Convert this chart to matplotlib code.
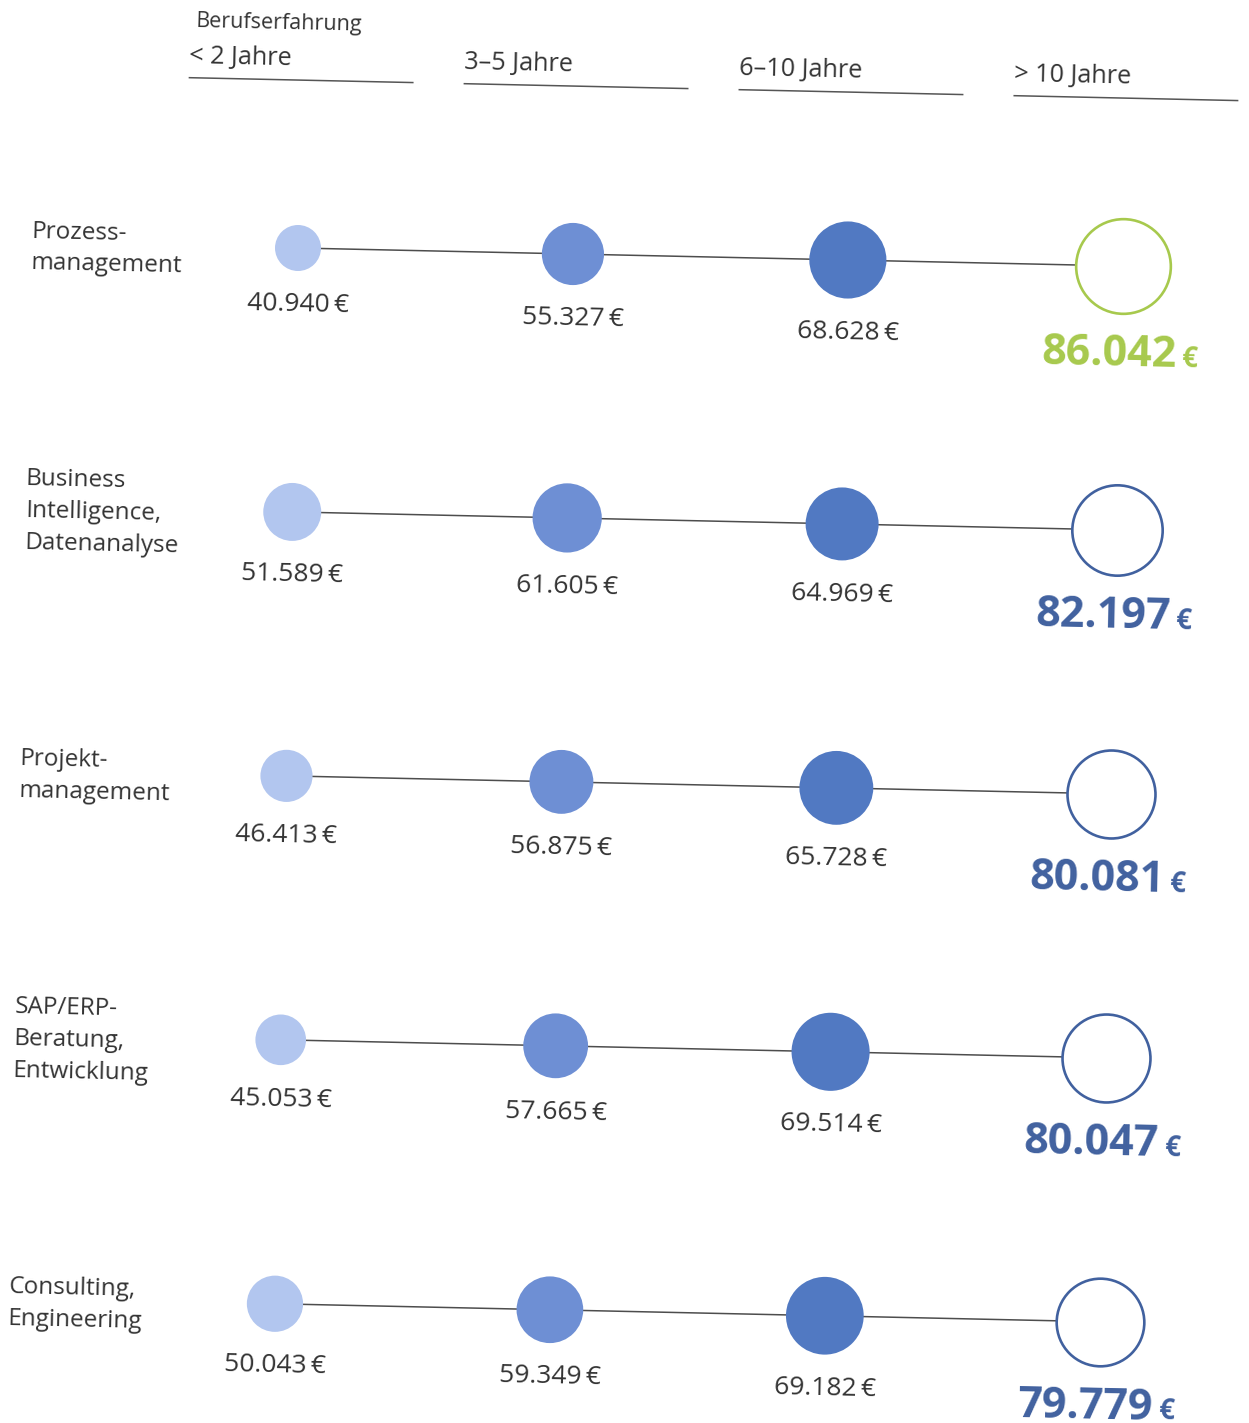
import matplotlib
matplotlib.use("Agg")
import matplotlib.pyplot as plt
from matplotlib.transforms import Affine2D

plt.rcParams['font.family'] = ['Open Sans', 'DejaVu Sans']

# Daten: Jahresgehalt nach Berufserfahrung
bereiche = ["Prozess-\nmanagement",
            "Business\nIntelligence,\nDatenanalyse",
            "Projekt-\nmanagement",
            "SAP/ERP-\nBeratung,\nEntwicklung",
            "Consulting,\nEngineering"]
erfahrung = ["< 2 Jahre", "3–5 Jahre", "6–10 Jahre", "> 10 Jahre"]
gehalt_unter2 = [40940, 51589, 46413, 45053, 50043]
gehalt_3_5 = [55327, 61605, 56875, 57665, 59349]
gehalt_6_10 = [68628, 64969, 65728, 69514, 69182]
gehalt_ueber10 = [86042, 82197, 80081, 80047, 79779]
spalten = [gehalt_unter2, gehalt_3_5, gehalt_6_10, gehalt_ueber10]

# Farben
fuell = ['#b2c6ef', '#6e8fd4', '#5179c2']
blau_dunkel = '#41619f'
gruen = '#a7c94d'
textfarbe = '#333333'

TILT = 1.25        # Scan ist leicht schief
PX_PRO_EURO = 1 / 1780.0   # Kreisradius in Pixel pro Euro


def fmt(v):
    return f"{v:,}".replace(',', '.')


fig = plt.figure(figsize=(12.49, 14.23), dpi=100)
ax = fig.add_axes([0, 0, 1, 1])
ax.set_xlim(-298 / 275, (1249 - 298) / 275)
ax.set_ylim((1423 - 248) / 264, -248 / 264)
ax.axis('off')

x0, y0 = ax.transData.transform((0, 0))
tr = ax.transData + Affine2D().rotate_deg_around(x0, y0, -TILT)

# Kopfzeile
ax.text(-0.389, -0.83, "Berufserfahrung", transform=tr, fontsize=15.5,
        color=textfarbe, ha='left', va='baseline', rotation=-TILT,
        rotation_mode='anchor')
for j, lab in enumerate(erfahrung):
    ax.text(j - 0.411, -0.692, lab, transform=tr, fontsize=18.2, color=textfarbe,
            ha='left', va='baseline', rotation=-TILT, rotation_mode='anchor')
    ax.plot([j - 0.411, j + 0.407], [-0.636, -0.636], transform=tr,
            color='#555555', lw=1.1, solid_capstyle='butt')

# Zeilen
for i, name in enumerate(bereiche):
    ax.text(-0.97, i + 0.02, name, transform=tr, fontsize=17.5,
            color=textfarbe, ha='left', va='center', linespacing=1.44,
            rotation=-TILT, rotation_mode='anchor')

    werte = [s[i] for s in spalten]
    xs = list(range(len(werte)))
    ys = [i] * len(werte)
    ax.plot(xs, ys, transform=tr, color='#4d4d4d', lw=1.1, zorder=1)

    akzent = gruen if i == 0 else blau_dunkel
    for j, v in enumerate(werte):
        r = v * PX_PRO_EURO
        if j < 3:
            ax.scatter([j], [i], s=(2 * r * 0.72) ** 2, transform=tr,
                       color=fuell[j], edgecolors='none', zorder=3)
            ax.annotate(fmt(v) + "\u2009€", xy=(j, i), xycoords=tr,
                        xytext=(0, -(r + 34) * 0.72), textcoords='offset points',
                        ha='center', va='center', fontsize=19,
                        color=textfarbe, rotation=-TILT)
        else:
            ax.scatter([j], [i], s=(2 * (r - 1) * 0.72) ** 2, transform=tr,
                       facecolors='white', edgecolors=akzent, linewidths=1.9,
                       zorder=3)
            t = ax.annotate(fmt(v), xy=(j, i), xycoords=tr,
                            xytext=(-10, -(r + 40) * 0.72),
                            textcoords='offset points', ha='center',
                            va='center', fontsize=31, fontweight='bold',
                            color=akzent, rotation=-TILT)
            ax.annotate("€", xy=(1, 0), xycoords=t, xytext=(3, 2),
                        textcoords='offset points', ha='left', va='bottom',
                        fontsize=20, fontweight='bold', color=akzent,
                        rotation=-TILT)

fig.savefig("out.png", dpi=100, facecolor='white')
